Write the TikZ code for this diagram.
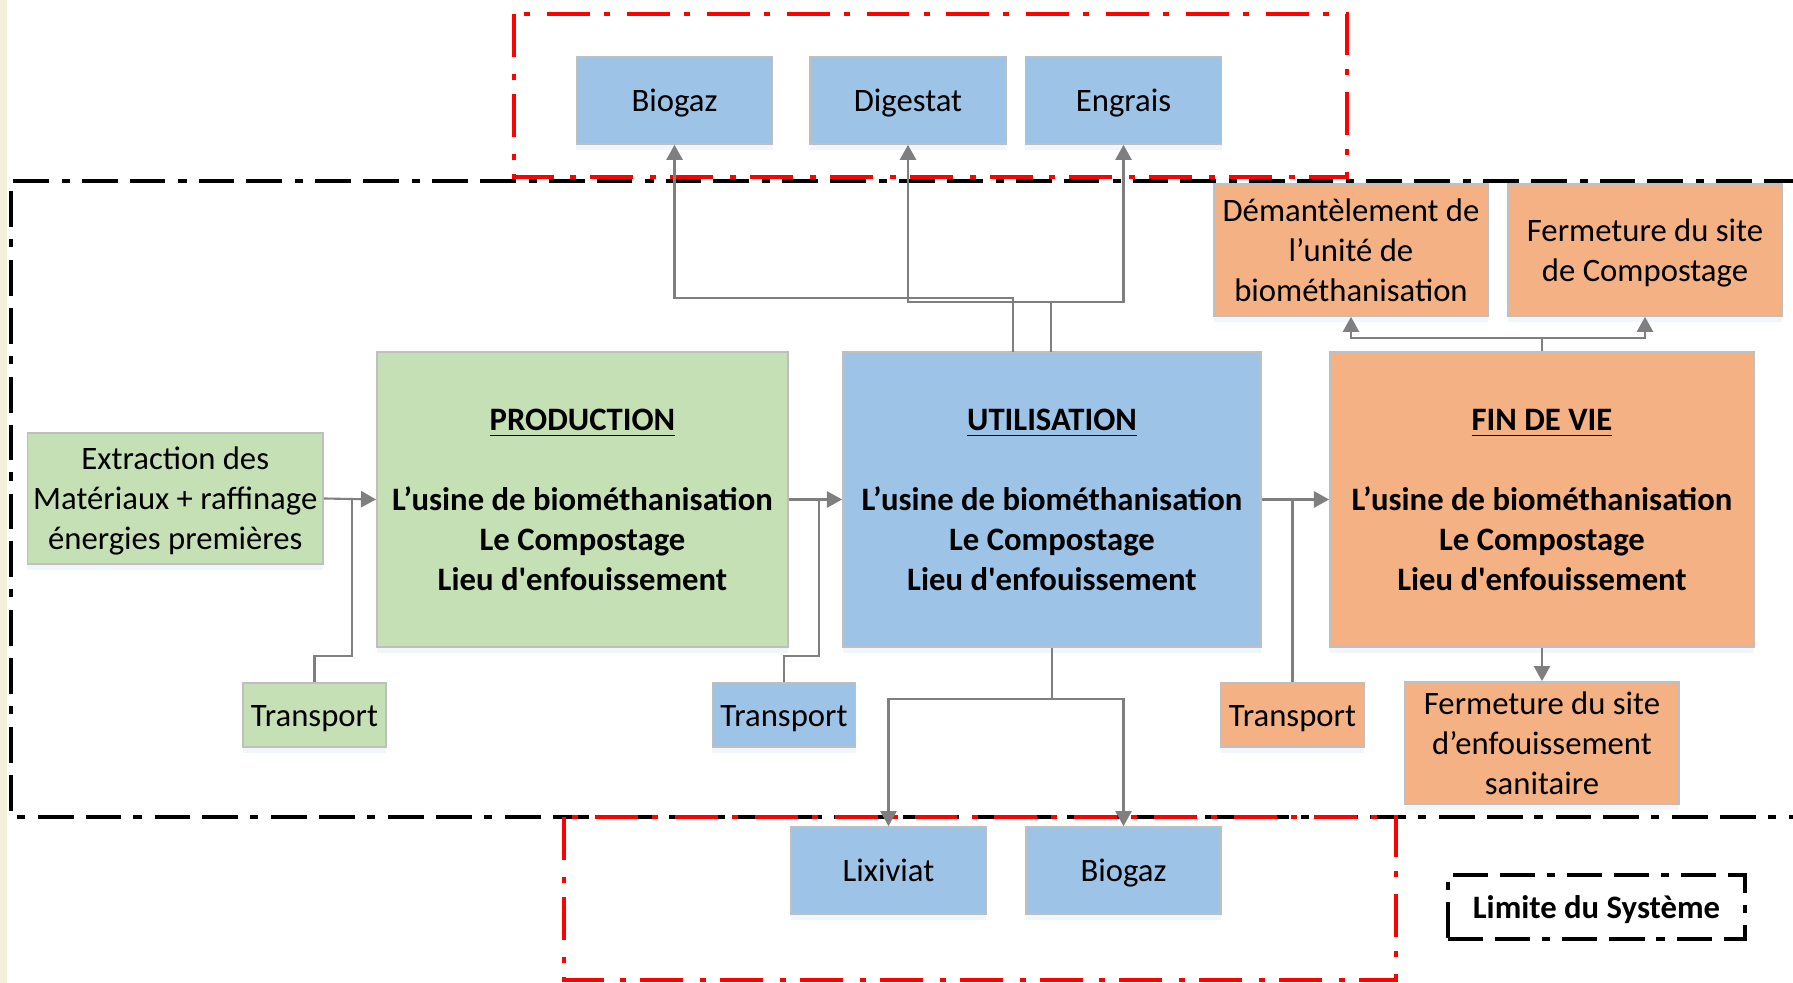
\documentclass[tikz,border=0pt]{standalone}
\usepackage{fontspec}
\setmainfont{Carlito}
\usetikzlibrary{arrows.meta,shadows}

\definecolor{boxblue}{HTML}{9DC3E6}
\definecolor{boxgreen}{HTML}{C5E0B4}
\definecolor{boxorange}{HTML}{F4B183}
\definecolor{boxedge}{HTML}{BFBFBF}
\definecolor{linkgray}{HTML}{7F7F7F}
\definecolor{sidestrip}{HTML}{F2F0D9}
\definecolor{limitred}{HTML}{FF0000}

\newcommand{\wstrut}{\rule[-0.269em]{0pt}{1.221em}}

\tikzset{
  box/.style={draw=boxedge, line width=0.45pt, inner sep=0pt, align=center,
    font=\fontsize{9.3}{11.4}\selectfont, execute at end node=\wstrut,
    drop shadow={shadow xshift=0pt, shadow yshift=-1.6pt, fill=boxblue!45, opacity=0.35}},
  mainbox/.style={box, minimum height=2.95cm, font=\fontsize{9.3}{11.4}\selectfont\bfseries},
  outbox/.style={box, fill=boxblue, minimum width=1.96cm, minimum height=0.87cm},
  transbox/.style={box, minimum width=1.43cm, minimum height=0.64cm},
  endbox/.style={box, fill=boxorange, minimum width=2.74cm},
  link/.style={draw=linkgray, line width=0.6pt},
  arrow/.style={link, -{Triangle[length=4.3pt,width=4.6pt]}},
  sysline/.style={draw=black, line width=1pt,
    dash pattern=on 10.2pt off 3.4pt on 10.2pt off 3.4pt on 2.3pt off 3.7pt},
  redline/.style={draw=limitred, line width=1.3pt,
    dash pattern=on 12.2pt off 4.8pt on 1.7pt off 4pt}
}

\begin{document}
\begin{tikzpicture}[x=0.01cm,y=-0.01cm]
  \useasboundingbox (0,0) rectangle (1793,983);
  \fill[sidestrip] (0,0) rectangle (7,983);

  \draw[sysline] (1800,181) -- (11,181) -- (11,817) -- (1800,817);
  \draw[redline] (514,14) rectangle (1347,177);
  \draw[redline] (564,817) rectangle (1396,980);

  \node[outbox] (biogazT) at (674.5,100.5) {Biogaz};
  \node[outbox] (digestat) at (908,100.5) {Digestat};
  \node[outbox] (engrais) at (1123.5,100.5) {Engrais};

  \node[box, fill=boxgreen, minimum width=2.955cm, minimum height=1.31cm] (extract) at (175.25,498.5)
    {\wstrut Extraction des\\Matériaux + raffinage\\énergies premières};
  \node[mainbox, fill=boxgreen, minimum width=4.11cm] (prod) at (582.5,499.5)
    {\wstrut\underline{PRODUCTION}\\[11.4pt]L’usine de biométhanisation\\Le Compostage\\Lieu d\textquotesingle enfouissement};
  \node[mainbox, fill=boxblue, minimum width=4.18cm] (util) at (1052,499.5)
    {\wstrut\underline{UTILISATION}\\[11.4pt]L’usine de biométhanisation\\Le Compostage\\Lieu d\textquotesingle enfouissement};
  \node[mainbox, fill=boxorange, minimum width=4.24cm] (fin) at (1542,499.5)
    {\wstrut\underline{FIN DE VIE}\\[11.4pt]L’usine de biométhanisation\\Le Compostage\\Lieu d\textquotesingle enfouissement};

  \node[endbox, minimum height=1.32cm] (demant) at (1351,250)
    {\wstrut Démantèlement de\\l’unité de\\biométhanisation};
  \node[endbox, minimum height=1.32cm] (fermcomp) at (1645,250)
    {\wstrut Fermeture du site\\de Compostage};
  \node[endbox, minimum height=1.22cm] (fermenf) at (1542,743)
    {\wstrut Fermeture du site\\d’enfouissement\\sanitaire};

  \node[transbox, fill=boxgreen] (trans1) at (314.5,715) {Transport};
  \node[transbox, fill=boxblue] (trans2) at (784,715) {Transport};
  \node[transbox, fill=boxorange] (trans3) at (1292.5,715) {Transport};

  \node[outbox, minimum width=1.95cm] (lixiviat) at (888.5,870.5) {Lixiviat};
  \node[outbox, minimum width=1.95cm] (biogazB) at (1123.5,870.5) {Biogaz};

  \node[draw=black, line width=0.95pt,
    dash pattern=on 10pt off 3.4pt on 10pt off 3.4pt on 2.3pt off 3.4pt,
    minimum width=2.97cm, minimum height=0.64cm, inner sep=0pt,
    execute at end node=\wstrut,
    font=\fontsize{9.3}{11.4}\selectfont\bfseries] (legend) at (1596.5,907) {Limite du Système};

  \coordinate (j1) at (352,499);
  \coordinate (j2) at (819,499);
  \coordinate (j3) at (1292.5,499);
  \coordinate (u1) at (1013,352);
  \coordinate (u2) at (1051,352);

  \draw[arrow] (extract.east) -- (prod.west);
  \draw[arrow] (prod.east) -- (util.west);
  \draw[arrow] (util.east) -- (fin.west);
  \draw[link] (trans1.north) -- ++(0,-26) -| (j1);
  \draw[link] (trans2.north) -- ++(0,-26) -| (j2);
  \draw[link] (trans3.north) -- (j3);

  \draw[arrow] (u1) -- ++(0,-54) -| (biogazT.south);
  \draw[arrow] (u2) -- ++(0,-50) -| (digestat.south);
  \draw[arrow] (u2) -- ++(0,-50) -| (engrais.south);

  \draw[arrow] (util.south) -- ++(0,51) -| (lixiviat.north);
  \draw[arrow] (util.south) -- ++(0,51) -| (biogazB.north);

  \draw[arrow] (fin.north) -- ++(0,-13) -| (demant.south);
  \draw[arrow] (fin.north) -- ++(0,-13) -| (fermcomp.south);
  \draw[arrow] (fin.south) -- (fermenf.north);
\end{tikzpicture}
\end{document}
